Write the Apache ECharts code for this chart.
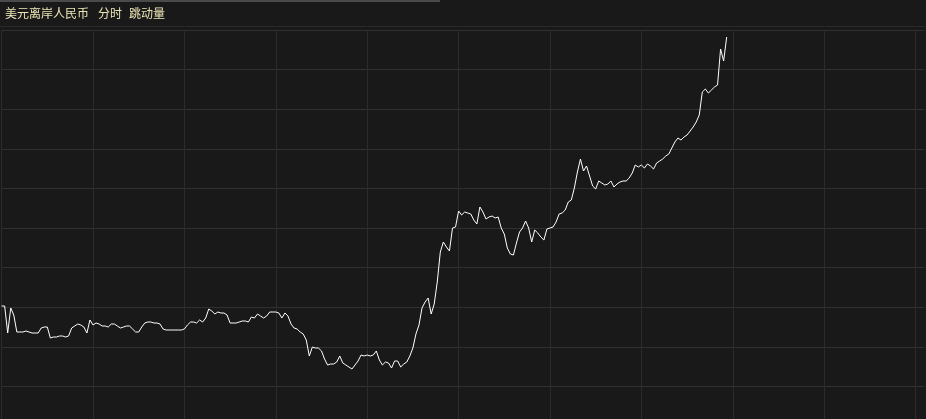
<!DOCTYPE html>
<html>
<head>
<meta charset="utf-8">
<script src="https://cdn.jsdelivr.net/npm/echarts@6/dist/echarts.min.js"></script>
<style>
html,body{margin:0;padding:0;background:#191919;}
#c{width:926px;height:419px;}
</style>
</head>
<body>
<div id="c"></div>
<script>
// Title texts
const titleName = '美元离岸人民币';
const titlePeriod = '分时';
const titleMode = '跳动量';

// Intraday slots visible in the panel (only the first 239 traded so far)
const slotCount = 304;
const categories = [];
for (let k = 0; k < slotCount; k++) {
  const hh = String(Math.floor(k / 60)).padStart(2, '0');
  const mm = String(k % 60).padStart(2, '0');
  categories.push(hh + ':' + mm);
}

// USD/CNH move, in pips above the panel's reference level
const pipsSegmentA = [
  120,120,93,118,111,94,94,94,95,94,
  93,93,93,98,99,99,88,89,89,90,
  90,89,90,98,100,102,101,99,93,106,
  101,103,102,100,100,99,102,102,100,98,
  99,100,100,97,94,94,99,103,104,104,
  103,103,102,97,96,96,96,96,96,96
];
const pipsSegmentB = [
  97,101,104,104,103,106,104,108,117,115,
  112,114,113,113,111,103,103,103,104,105,
  105,104,109,108,112,110,108,110,114,114,
  114,113,108,113,110,102,98,97,94,92,
  86,70,79,78,78,75,67,61,62,62,
  64,70,63,61,59,57,61,65,71,70
];
const pipsSegmentC = [
  71,70,71,75,66,61,64,63,58,65,
  65,59,62,64,70,78,92,101,118,124,
  128,112,122,144,174,184,179,175,198,199,
  215,211,214,213,212,206,202,219,214,207,
  209,210,208,209,198,192,178,172,171,183,
  194,198,205,198,184,196,193,189,186,197
];
const pipsSegmentD = [
  198,199,204,212,213,216,224,226,238,254,
  267,255,260,250,240,237,245,243,241,242,
  245,239,242,244,245,245,248,253,261,259,
  261,258,262,260,257,263,265,267,270,272,
  278,284,288,286,289,291,295,299,304,311,
  334,337,333,336,339,341,377,365,389
];
const pips = [].concat(pipsSegmentA, pipsSegmentB, pipsSegmentC, pipsSegmentD);

const vLineColor = '#2b2b2b';
const hLineColor = '#303030';

function xAxisFor(gridIndex) {
  return {
    type: 'category',
    gridIndex: gridIndex,
    data: categories,
    boundaryGap: false,
    axisLine: {show: false},
    axisTick: {show: false},
    axisLabel: {show: false},
    splitLine: {show: true, interval: 29, lineStyle: {color: vLineColor, width: 1}}
  };
}

const chart = echarts.init(document.getElementById('c'), null, {renderer: 'canvas'});
chart.setOption({
  backgroundColor: '#191919',
  animation: false,
  grid: [
    {left: 1.6, top: 30, width: 923.1, height: 356.4, containLabel: false},
    {left: 1.6, top: 386.4, width: 923.1, height: 32.6, containLabel: false}
  ],
  xAxis: [xAxisFor(0), xAxisFor(1)],
  yAxis: [
    {
      type: 'value',
      gridIndex: 0,
      min: 39.6,
      max: 396,
      interval: 39.6,
      axisLine: {show: false},
      axisTick: {show: false},
      axisLabel: {show: false},
      splitLine: {show: true, lineStyle: {color: hLineColor, width: 1}}
    },
    {
      type: 'value',
      gridIndex: 1,
      min: 0,
      max: 39.6,
      show: false,
      splitLine: {show: false}
    }
  ],
  graphic: [
    {type: 'rect', left: 0, top: 0, shape: {width: 440, height: 2}, style: {fill: '#4a4a4a'}, silent: true},
    {type: 'line', shape: {x1: 0, y1: 26.5, x2: 926, y2: 26.5}, style: {stroke: '#2a2a2a', lineWidth: 1}, silent: true},
    {type: 'text', left: 5, top: 7, style: {text: titleName, fill: '#ece6b6', font: '12px "Noto Sans CJK SC", sans-serif'}},
    {type: 'text', left: 98, top: 7, style: {text: titlePeriod, fill: '#ece6b6', font: '12px "Noto Sans CJK SC", sans-serif'}},
    {type: 'text', left: 129, top: 7, style: {text: titleMode, fill: '#ece6b6', font: '12px "Noto Sans CJK SC", sans-serif'}}
  ],
  series: [{
    type: 'line',
    xAxisIndex: 0,
    yAxisIndex: 0,
    data: pips,
    showSymbol: false,
    symbol: 'none',
    lineStyle: {color: '#ffffff', width: 1},
    silent: true
  }]
});
</script>
</body>
</html>
